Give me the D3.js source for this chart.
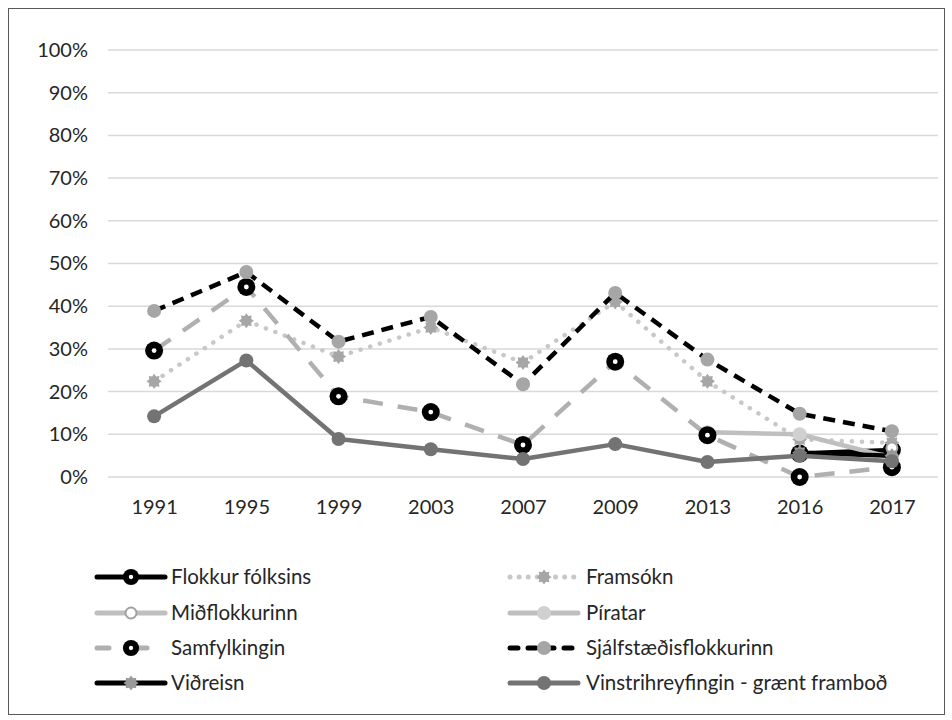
<!DOCTYPE html>
<html>
<head>
<meta charset="utf-8">
<script src="https://cdn.jsdelivr.net/npm/d3@7"></script>
<style>
  body { margin: 0; background: #fff; }
  text { font-family: Lato, "Open Sans", sans-serif; fill: #262626; }
</style>
</head>
<body>
<div id="chart"></div>
<script>
// election years and share of vote per party (null = not running)
const years = ["1991", "1995", "1999", "2003", "2007", "2009", "2013", "2016", "2017"];
const yTicks = [0, 0.1, 0.2, 0.3, 0.4, 0.5, 0.6, 0.7, 0.8, 0.9, 1];

const flokkurFolksins = [null, null, null, null, null, null, null, 0.055, 0.063];
const framsokn = [0.224, 0.366, 0.282, 0.35, 0.268, 0.41, 0.224, 0.088, 0.08];
const midflokkurinn = [null, null, null, null, null, null, null, null, 0.068];
const piratar = [null, null, null, null, null, null, 0.105, 0.1, 0.045];
const samfylkingin = [0.296, 0.445, 0.189, 0.152, 0.075, 0.27, 0.098, 0.0, 0.023];
const sjalfstaedis = [0.389, 0.48, 0.317, 0.375, 0.217, 0.431, 0.275, 0.148, 0.107];
const vidreisn = [null, null, null, null, null, null, null, 0.057, 0.05];
const vinstri = [0.142, 0.273, 0.089, 0.065, 0.042, 0.077, 0.035, 0.05, 0.037];

const seriesNames = ["Flokkur fólksins", "Framsókn", "Miðflokkurinn", "Píratar",
  "Samfylkingin", "Sjálfstæðisflokkurinn", "Viðreisn", "Vinstrihreyfingin - grænt framboð"];
const seriesValues = [flokkurFolksins, framsokn, midflokkurinn, piratar,
  samfylkingin, sjalfstaedis, vidreisn, vinstri];

// styling per series
const styles = [
  { stroke: "#000", dash: null, marker: "ring", mfill: "#000" },
  { stroke: "#c8c8c8", dash: "0.1,10", marker: "gear", mfill: "#a6a6a6" },
  { stroke: "#bfbfbf", dash: null, marker: "hollow", mfill: "#fff", mstroke: "#a0a0a0" },
  { stroke: "#bfbfbf", dash: null, marker: "dot", mfill: "#d0d0d0" },
  { stroke: "#b0b0b0", dash: "20,15", marker: "ring", mfill: "#000" },
  { stroke: "#000", dash: "12,8", marker: "dot", mfill: "#a6a6a6" },
  { stroke: "#000", dash: null, marker: "gear", mfill: "#999" },
  { stroke: "#737373", dash: null, marker: "dot", mfill: "#737373" }
];

const width = 952, height = 720;
const fontSize = "20px";
const svg = d3.select("#chart").append("svg")
  .attr("width", width)
  .attr("height", height);

svg.append("rect")
  .attr("x", 8.5).attr("y", 8.5)
  .attr("width", 936).attr("height", 706)
  .attr("fill", "#fff")
  .attr("stroke", "#595959");

const x = d3.scalePoint().domain(years).range([108, 938]).padding(0.5);
const y = d3.scaleLinear().domain([0, 1]).range([477, 50]);

// gridlines
svg.append("g").selectAll("line")
  .data(yTicks)
  .join("line")
  .attr("x1", 108).attr("x2", 938)
  .attr("y1", d => y(d)).attr("y2", d => y(d))
  .attr("stroke", "#d9d9d9")
  .attr("stroke-width", 1.5);

// y axis labels
const yAxis = svg.append("g")
  .attr("transform", "translate(88,0)")
  .call(d3.axisLeft(y).tickValues(yTicks).tickFormat(d3.format(".0%")).tickSize(0).tickPadding(0));
yAxis.select(".domain").remove();
yAxis.selectAll("text").style("font-size", fontSize).attr("fill", "#262626")
  .style("font-family", "Lato, 'Open Sans', sans-serif");

// x axis labels
const xAxis = svg.append("g")
  .attr("transform", "translate(0,500)")
  .call(d3.axisBottom(x).tickSize(0).tickPadding(0));
xAxis.select(".domain").remove();
xAxis.selectAll("text").style("font-size", fontSize).attr("fill", "#262626")
  .style("font-family", "Lato, 'Open Sans', sans-serif");

// gear shape
const gearPts = d3.range(16).map(i => [i * Math.PI / 8, i % 2 ? 5.2 : 7.5]);
const gearPath = d3.lineRadial().curve(d3.curveLinearClosed)(gearPts);

function drawMarker(g, st, scale) {
  const s = scale || 1;
  if (st.marker === "ring") {
    g.append("circle").attr("r", 9 * s).attr("fill", st.mfill);
    g.append("circle").attr("r", 2.4 * s).attr("fill", "#fff");
  } else if (st.marker === "dot") {
    g.append("circle").attr("r", 7 * s).attr("fill", st.mfill);
  } else if (st.marker === "hollow") {
    g.append("circle").attr("r", 5.5 * s).attr("fill", st.mfill)
      .attr("stroke", st.mstroke).attr("stroke-width", 2);
  } else if (st.marker === "gear") {
    g.append("path").attr("d", gearPath).attr("fill", st.mfill)
      .attr("transform", `scale(${s})`);
  }
}

const line = d3.line()
  .defined(d => d.v != null)
  .x(d => x(d.year))
  .y(d => y(d.v));

const plot = svg.append("g");
seriesValues.forEach((vals, i) => {
  const st = styles[i];
  const pts = years.map((yr, j) => ({ year: yr, v: vals[j] }));
  const g = plot.append("g");
  g.append("path")
    .datum(pts)
    .attr("d", line)
    .attr("fill", "none")
    .attr("stroke", st.stroke)
    .attr("stroke-width", 4.5)
    .attr("stroke-linecap", st.dash && !st.dash.startsWith("0.1") ? "butt" : "round")
    .attr("stroke-linejoin", "round")
    .attr("stroke-dasharray", st.dash);
  pts.filter(d => d.v != null).forEach(d => {
    const m = g.append("g").attr("transform", `translate(${x(d.year)},${y(d.v)})`);
    drawMarker(m, st);
  });
});

// legend
const legendCols = [95, 508];
const legendRows = [577, 613, 648, 683];
const legend = svg.append("g");
seriesNames.forEach((name, i) => {
  const st = styles[i];
  const lx = legendCols[i % 2], ly = legendRows[Math.floor(i / 2)];
  const g = legend.append("g").attr("transform", `translate(${lx},${ly})`);
  g.append("line")
    .attr("x1", 2).attr("x2", 70)
    .attr("stroke", st.stroke)
    .attr("stroke-width", 5)
    .attr("stroke-linecap", "round")
    .attr("stroke-dasharray", st.dash === "0.1,10" ? "0.1,9" : (st.dash === "12,8" ? "8,10" : (st.dash ? "12,26" : null)));
  const m = g.append("g").attr("transform", "translate(36,0)");
  drawMarker(m, st, st.marker === "ring" ? 0.9 : 1);
  g.append("text")
    .attr("x", i % 2 ? 78 : 76)
    .attr("y", 0)
    .attr("dy", "0.35em")
    .style("font-size", "20.5px")
    .text(name);
});
</script>
</body>
</html>
